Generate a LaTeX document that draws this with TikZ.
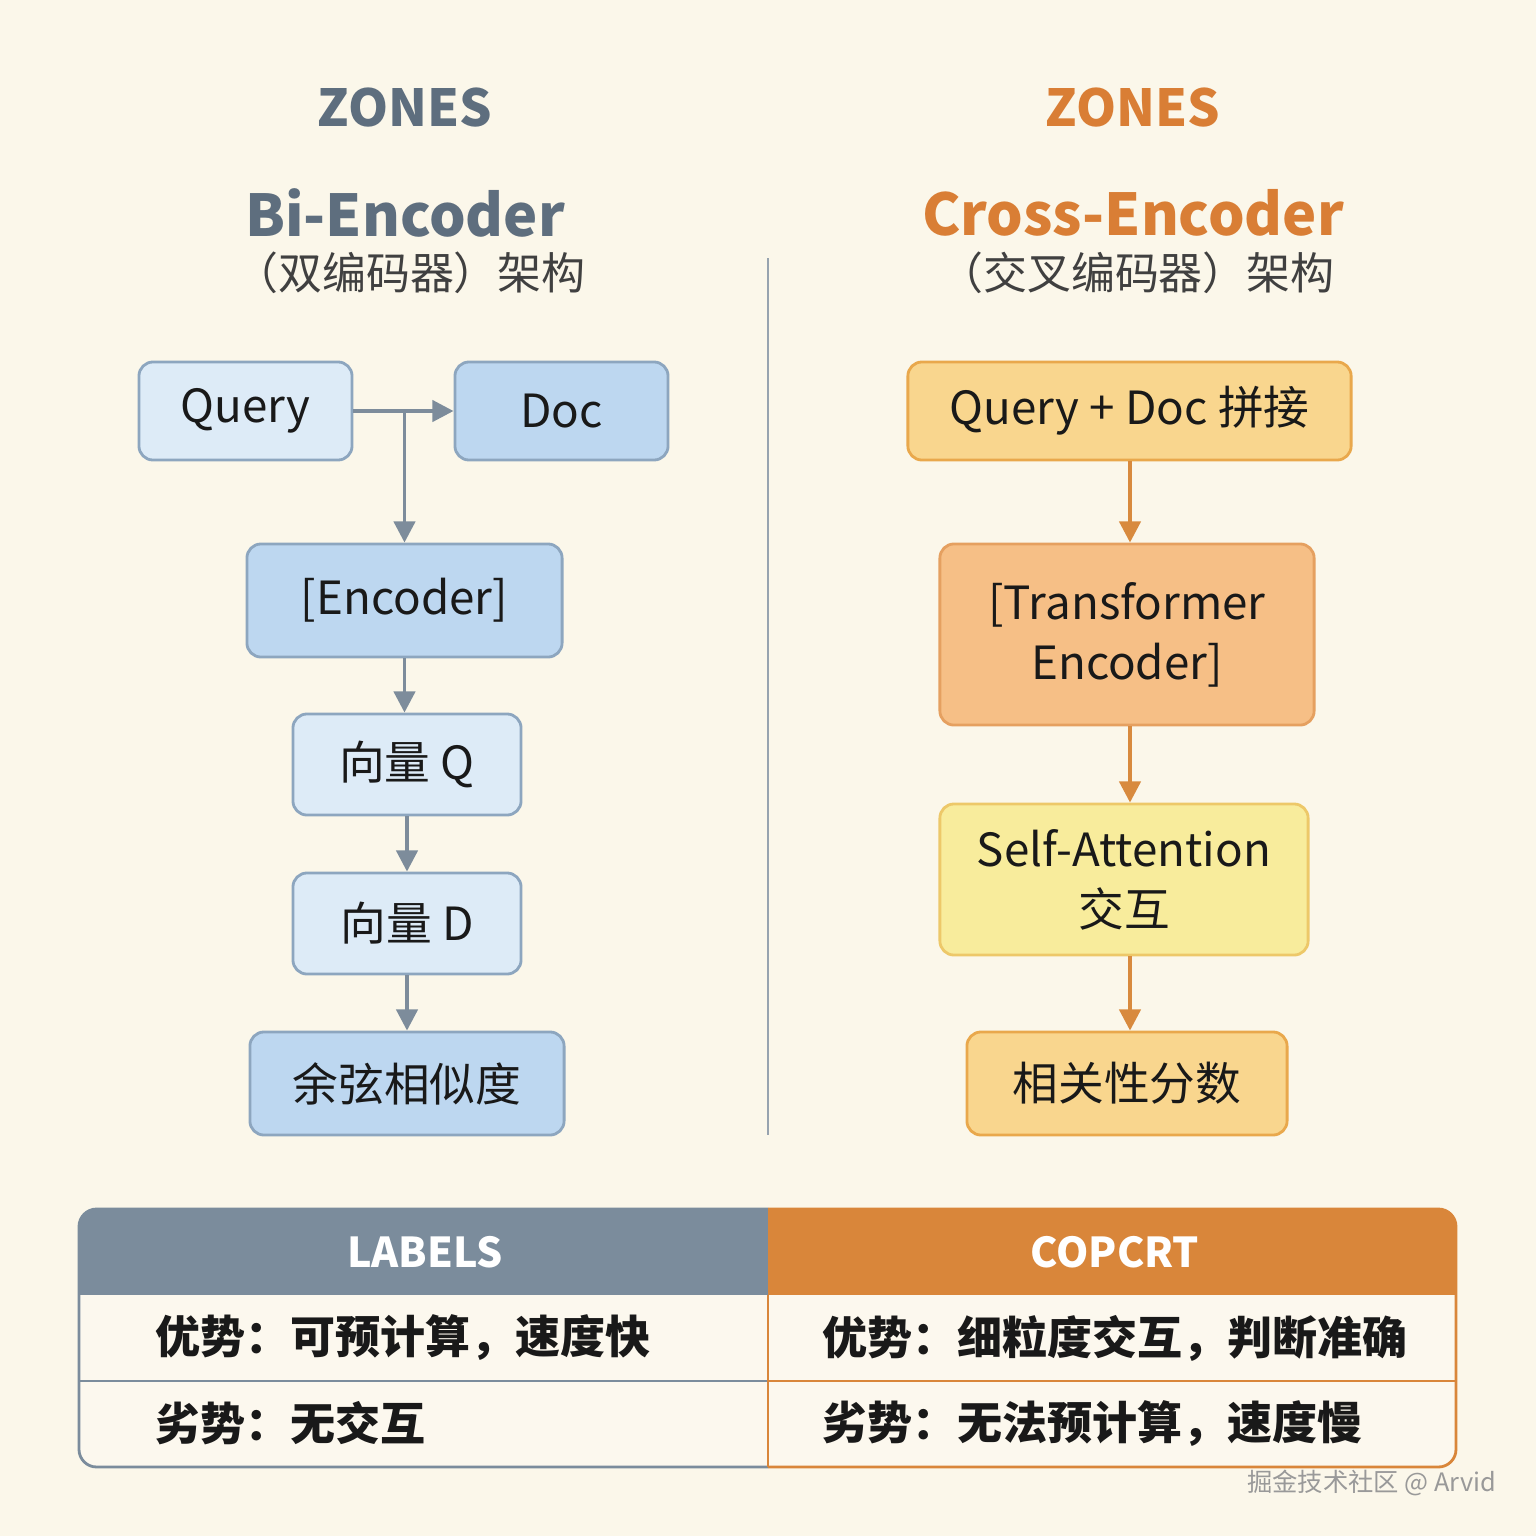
\documentclass[tikz,border=0pt]{standalone}
\usepackage{fontspec}
\setmainfont{Noto Sans CJK SC}
\usetikzlibrary{arrows.meta}
\definecolor{bgcream}{HTML}{FBF7EA}
\definecolor{slate}{HTML}{5E6E7E}
\definecolor{amber}{HTML}{D97E35}
\definecolor{lightblue}{HTML}{DDEBF7}
\definecolor{midblue}{HTML}{BDD7F0}
\definecolor{blueline}{HTML}{8DA6BF}
\definecolor{grayarrow}{HTML}{7D8C9B}
\definecolor{orangearrow}{HTML}{D88A3E}
\definecolor{peach}{HTML}{F9D68E}
\definecolor{peachline}{HTML}{E9A84C}
\definecolor{apricot}{HTML}{F6BF86}
\definecolor{apricotline}{HTML}{E5A060}
\definecolor{lemon}{HTML}{F8EC9C}
\definecolor{lemonline}{HTML}{EDC869}
\definecolor{hdgray}{HTML}{7B8C9C}
\definecolor{hdorange}{HTML}{D9863A}
\definecolor{tablebody}{HTML}{FCF8EE}
\tikzset{
  box/.style={draw, rounded corners=4pt, line width=0.8pt, align=center, inner sep=0pt,
    text=black!90, font=\fontsize{13}{17}\selectfont},
  qbox/.style={box, fill=lightblue, draw=blueline},
  dbox/.style={box, fill=midblue, draw=blueline},
  arr/.style={line width=1.1pt, -{Triangle[length=6pt,width=6pt]}},
  rowtext/.style={anchor=west, inner sep=0pt, font=\fontsize{12.8}{16}\bfseries\selectfont, text=black!90}
}
\begin{document}
\begin{tikzpicture}[x=0.01cm,y=-0.01cm]
    %Background
    \fill[bgcream] (0,0) rectangle (1536,1536);
    \useasboundingbox (0,0) rectangle (1536,1536);
    %Titles
    \node[text=slate, font=\fontsize{14.5}{18}\bfseries\selectfont] (zoneL) at (405,108) {ZONES};
    \node[text=slate, font=\fontsize{16.4}{20}\bfseries\selectfont] (titleL) at (405,213) {Bi-Encoder};
    \node[text=black!75, font=\fontsize{12.5}{15}\selectfont] (subL) at (410,273) {（双编码器）架构};
    \node[text=amber, font=\fontsize{14.5}{18}\bfseries\selectfont] (zoneR) at (1133,108) {ZONES};
    \node[text=amber, font=\fontsize{16.4}{20}\bfseries\selectfont] (titleR) at (1133,213) {Cross-Encoder};
    \node[text=black!75, font=\fontsize{12.5}{15}\selectfont] (subR) at (1137,273) {（交叉编码器）架构};
    %Divider
    \draw[grayarrow!80, line width=0.6pt] (768,258) -- (768,1135);
    %Bi-Encoder
    \node[qbox, minimum width=2.13cm, minimum height=0.98cm] (qry) at (245.5,411) {Query};
    \node[dbox, minimum width=2.13cm, minimum height=0.98cm] (doc) at (561.5,411) {Doc};
    \node[dbox, minimum width=3.15cm, minimum height=1.13cm] (enc) at (404.5,600.5) {[Encoder]};
    \node[qbox, minimum width=2.28cm, minimum height=1.01cm] (vecq) at (407,764.5) {向量 Q};
    \node[qbox, minimum width=2.28cm, minimum height=1.01cm] (vecd) at (407,923.5) {向量 D};
    \node[dbox, minimum width=3.14cm, minimum height=1.03cm] (cos) at (407,1083.5) {余弦相似度};
    \coordinate (split) at (qry.east -| enc.north);
    \draw[arr, grayarrow] (qry.east) -- (doc.west);
    \draw[arr, grayarrow] (split) -- (enc.north);
    \draw[arr, grayarrow] (enc.south) -- (enc.south |- vecq.north);
    \draw[arr, grayarrow] (vecq) -- (vecd);
    \draw[arr, grayarrow] (vecd) -- (cos);
    %Cross-Encoder
    \node[box, fill=peach, draw=peachline, minimum width=4.43cm, minimum height=0.98cm] (cat) at (1129.5,411) {Query + Doc 拼接};
    \node[box, fill=apricot, draw=apricotline, minimum width=3.74cm, minimum height=1.81cm] (trf) at (1127,634.5) {[Transformer\\Encoder]};
    \node[box, fill=lemon, draw=lemonline, minimum width=3.68cm, minimum height=1.51cm] (attn) at (1124,879.5) {Self-Attention\\交互};
    \node[box, fill=peach, draw=peachline, minimum width=3.20cm, minimum height=1.03cm] (score) at (1127,1083.5) {相关性分数};
    \draw[arr, orangearrow] (cat.south -| 1130,0) -- (trf.north -| 1130,0);
    \draw[arr, orangearrow] (trf.south -| 1130,0) -- (attn.north -| 1130,0);
    \draw[arr, orangearrow] (attn.south -| 1130,0) -- (score.north -| 1130,0);
    %Table
    \begin{scope}
        \clip[rounded corners=5pt] (79,1209) rectangle (1456,1467);
        \fill[tablebody] (79,1209) rectangle (1456,1467);
        \fill[hdgray] (79,1209) rectangle (768,1295);
        \fill[hdorange] (768,1209) rectangle (1456,1295);
    \end{scope}
    \draw[hdgray, line width=0.8pt, rounded corners=5pt] (768,1467) -- (79,1467) -- (79,1209) -- (768,1209);
    \draw[hdorange, line width=0.8pt, rounded corners=5pt] (768,1209) -- (1456,1209) -- (1456,1467) -- (768,1467);
    \draw[hdgray, line width=0.8pt] (79,1381) -- (768,1381);
    \draw[hdorange, line width=0.8pt] (768,1381) -- (1456,1381);
    \draw[hdorange, line width=0.8pt] (768,1295) -- (768,1467);
    \node[text=white, font=\fontsize{11.7}{14}\bfseries\selectfont] (hdL) at (425,1252) {LABELS};
    \node[text=white, font=\fontsize{11.7}{14}\bfseries\selectfont] (hdR) at (1115,1252) {COPCRT};
    \node[rowtext] (proL) at (155,1338) {优势：可预计算，速度快};
    \node[rowtext] (conL) at (155,1423) {劣势：无交互};
    \node[rowtext] (proR) at (822,1338) {优势：细粒度交互，判断准确};
    \node[rowtext] (conR) at (822,1423) {劣势：无法预计算，速度慢};
    %Watermark
    \node[anchor=east, inner sep=0pt, text=black!40, font=\fontsize{7.2}{9}\selectfont] (mark) at (1497,1483) {掘金技术社区 @ Arvid};
\end{tikzpicture}
\end{document}
